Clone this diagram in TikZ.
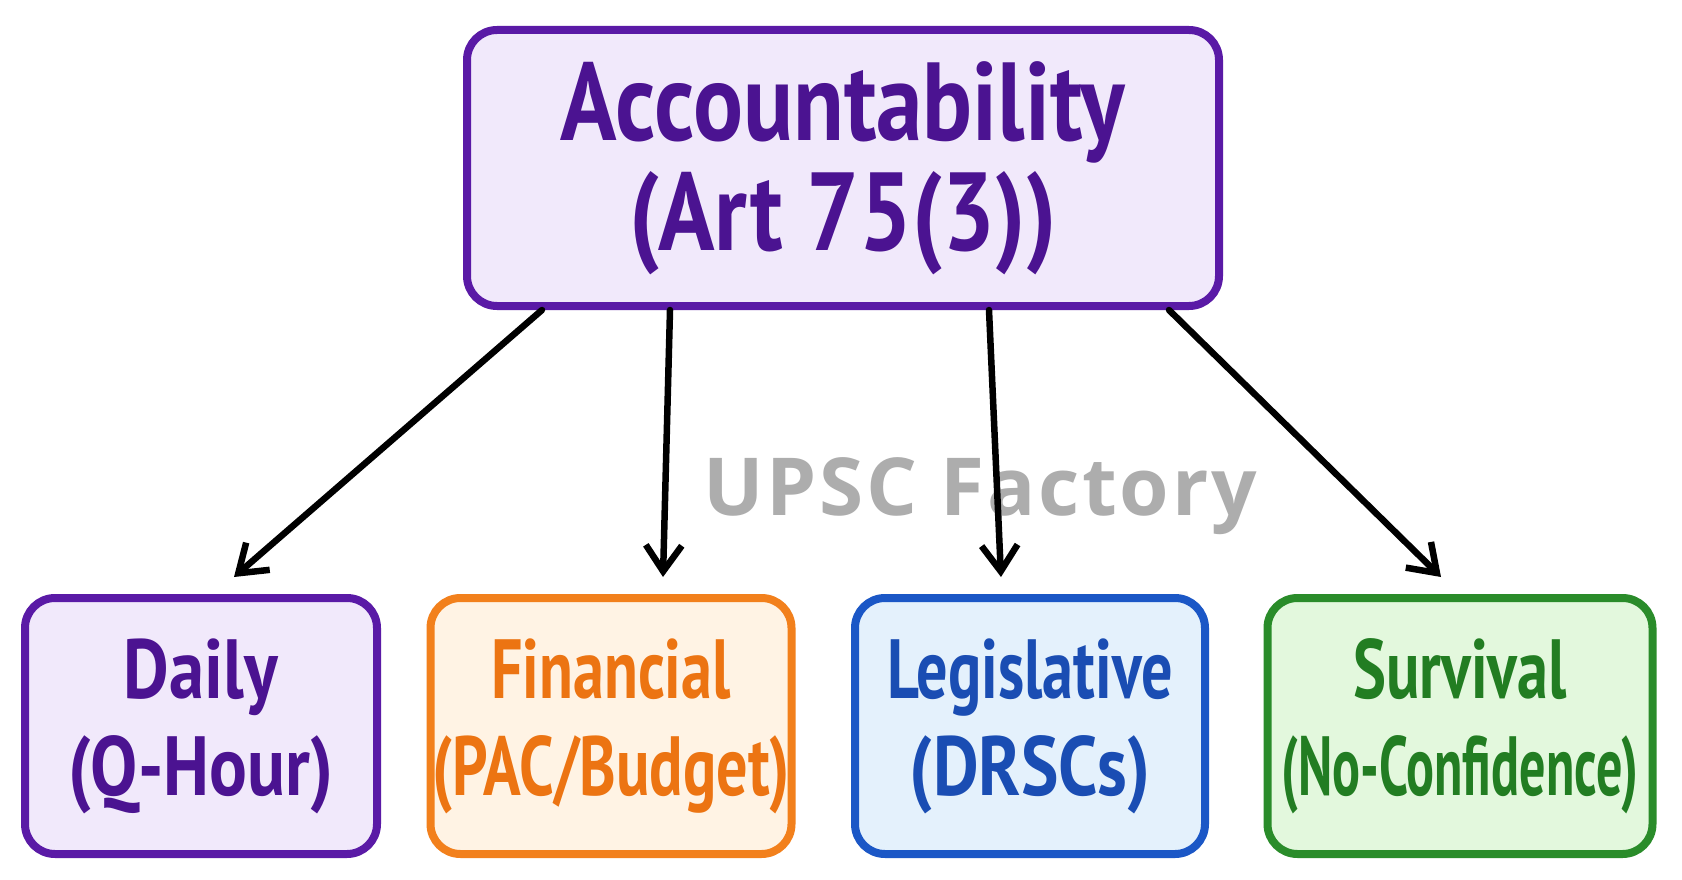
\documentclass[tikz,border=0pt]{standalone}
\usepackage{fontspec}
\usepackage{tikz}
\usetikzlibrary{arrows.meta,positioning}
\newfontfamily\handfont[FakeStretch=0.74]{PT Sans}
\newfontfamily\handwide[FakeStretch=0.84]{PT Sans}
\newfontfamily\handnarrow[FakeStretch=0.62]{PT Sans}
\newfontfamily\markfont[LetterSpace=3.5]{Open Sans}

\definecolor{purpleline}{HTML}{5A1AA6}
\definecolor{purplefill}{HTML}{F1E9FB}
\definecolor{purpletext}{HTML}{4B1391}
\definecolor{orangeline}{HTML}{F2801C}
\definecolor{orangefill}{HTML}{FFF3E4}
\definecolor{orangetext}{HTML}{EC7412}
\definecolor{blueline}{HTML}{1B57C6}
\definecolor{bluefill}{HTML}{E4F1FC}
\definecolor{bluetext}{HTML}{1A4DB3}
\definecolor{greenline}{HTML}{2A8C2A}
\definecolor{greenfill}{HTML}{E3F8DD}
\definecolor{greentext}{HTML}{227D22}

\begin{document}
\begin{tikzpicture}[x=1pt,y=-1pt,
	box/.style={rounded corners=30pt,line width=8pt,align=center,inner sep=0pt},
	leaf/.style={box,minimum height=256pt,font=\handfont\bfseries\fontsize{84}{97}\selectfont},
	arr/.style={line width=6.5pt,line cap=round,-{Straight Barb[length=26pt,width=36pt,line width=6.5pt]}}]
			\fill[white](0,0) rectangle (1682,880);
			\useasboundingbox(0,0) rectangle (1682,880);
			\node (mark) at (980,496) {\markfont\bfseries\fontsize{80}{80}\selectfont\color[HTML]{ADADAD}UPSC Factory};
			\node (acc) at (843,168) [box,draw=purpleline,fill=purplefill,text=purpletext,minimum width=752pt,minimum height=276pt,font=\handwide\bfseries\fontsize{111}{110}\selectfont] {Accountability\\(Art 75(3))};
			\node (daily) at (201,726) [leaf,draw=purpleline,fill=purplefill,text=purpletext,minimum width=352pt,font=\handwide\bfseries\fontsize{84}{97}\selectfont] {Daily\\(Q-Hour)};
			\node (fin) at (611,726) [leaf,draw=orangeline,fill=orangefill,text=orangetext,minimum width=361pt] {Financial\\(PAC/Budget)};
			\node (leg) at (1030,726) [leaf,draw=blueline,fill=bluefill,text=bluetext,minimum width=350pt] {Legislative\\{\handwide\bfseries(DRSCs)}};
			\node (surv) at (1460,726) [leaf,draw=greenline,fill=greenfill,text=greentext,minimum width=385pt] {Survival\\{\handnarrow\bfseries(No-Confidence)}};
			\draw[arr]([xshift=-301pt]acc.south)--([xshift=33pt,yshift=17pt]daily.north);
			\draw[arr]([xshift=-173pt]acc.south)--([xshift=52pt,yshift=17pt]fin.north);
			\draw[arr]([xshift=146pt]acc.south)--([xshift=-29pt,yshift=17pt]leg.north);
			\draw[arr]([xshift=326pt]acc.south)--([xshift=-19pt,yshift=17pt]surv.north);
		\end{tikzpicture}
\end{document}
